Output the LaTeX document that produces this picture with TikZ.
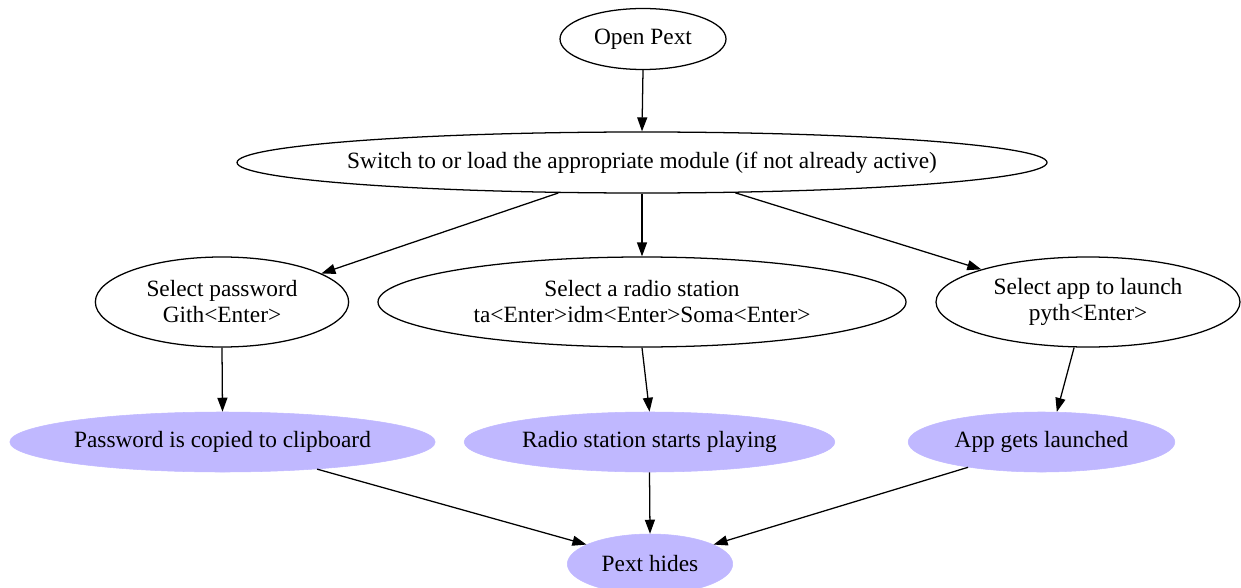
\documentclass[tikz,border=0pt]{standalone}
\usepackage{fontspec}
\setmainfont{Liberation Serif}
\usetikzlibrary{shapes.geometric,arrows.meta}
\definecolor{donefill}{RGB}{192,184,255}
\begin{document}
\begin{tikzpicture}[x=0.75pt,y=-0.75pt,
  state/.style={ellipse,draw,line width=0.95pt,inner sep=0pt,align=center,
    font=\fontsize{17.5}{19.5}\selectfont},
  result/.style={ellipse,draw=donefill,fill=donefill,inner sep=0pt,
    font=\fontsize{17.5}{19.5}\selectfont},
  flow/.style={line width=0.95pt,-{Triangle[length=10.5pt,width=7.5pt]}}]
\useasboundingbox (0,0) rectangle (1241,588);
%
\node[state,minimum width=124.5pt,minimum height=45.75pt] (open) at (643,39) {Open Pext};
\node[state,inner xsep=-7pt,minimum width=607.5pt,minimum height=45.75pt] (module) at (642,162.5)
  {Switch to or load the appropriate module (if not already active)};
%
\node[state,minimum width=190pt,minimum height=67.5pt] (password) at (222,302)
  {Select password\\Gith<Enter>};
\node[state,minimum width=396pt,minimum height=67.5pt] (radio) at (642,302)
  {Select a radio station\\ta<Enter>idm<Enter>Soma<Enter>};
\node[state,minimum width=228pt,minimum height=67.5pt] (app) at (1088,302)
  {Select app to launch\\pyth<Enter>};
%
\node[result,minimum width=319pt,minimum height=45pt] (copied) at (222.5,442)
  {Password is copied to clipboard};
\node[result,minimum width=278pt,minimum height=45pt] (playing) at (649.5,442)
  {Radio station starts playing};
\node[result,minimum width=200pt,minimum height=45pt] (launched) at (1041.5,442)
  {App gets launched};
%
\node[result,minimum width=124pt,minimum height=45pt] (hides) at (650,564) {Pext hides};
%
\draw[flow] (open.south) -- (module.north);
\draw[flow] (module.200) -- (password.16);
\draw[flow] (module.south) -- (radio.north);
\draw[flow] (module.342) -- (app.163);
%
\draw[flow] (password.south) -- (copied.north);
\draw[flow] (radio.south) -- (playing.north);
\draw[flow] (app.253) -- (launched.63);
%
\draw[flow] (copied.344) -- (hides.163);
\draw[flow] (playing.south) -- (hides.north);
\draw[flow] (launched.199) -- (hides.17);
\end{tikzpicture}
\end{document}
